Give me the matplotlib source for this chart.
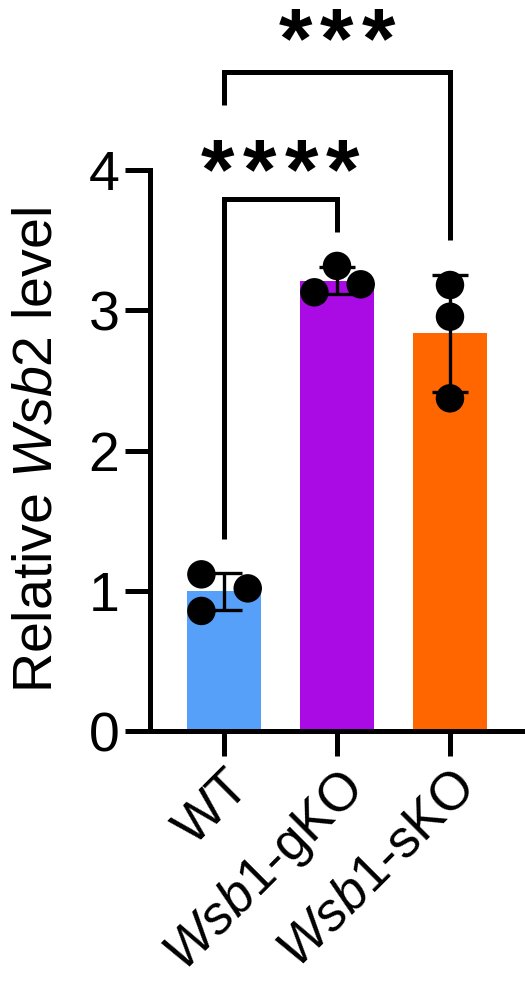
import matplotlib
matplotlib.use('Agg')
import matplotlib.pyplot as plt
import numpy as np

plt.rcParams['font.family'] = ['Liberation Sans', 'DejaVu Sans']
plt.rcParams['mathtext.fontset'] = 'custom'
plt.rcParams['mathtext.rm'] = 'Liberation Sans'
plt.rcParams['mathtext.it'] = 'Liberation Sans:italic'

# data
group_labels = ['WT', '$\\mathit{Wsb1}$-gKO', '$\\mathit{Wsb1}$-sKO']
wt = [1.117, 1.017, 0.856]
gko = [3.316, 3.128, 3.185]
sko = [3.18, 2.954, 2.372]
jitter = [[-0.2, 0.21, -0.2], [0.0, -0.2, 0.21], [0.0, 0.0, 0.0]]
bar_colors = ['#56A0FA', '#AA0AE4', '#FF6600']
# brackets: (left group, right group, y top, left leg bottom, right leg bottom, stars, star baseline)
brackets = [(0, 1, 3.79, 1.37, 3.56, 4, 3.80),
            (0, 2, 4.70, 4.46, 3.50, 3, 4.73)]

samples = [wt, gko, sko]
means = [np.mean(s) for s in samples]
sds = [np.std(s, ddof=1) for s in samples]
x = np.arange(len(samples))

fig = plt.figure(figsize=(5.25, 9.85), dpi=100)
ax = fig.add_axes([150/525, 254/985, 375/525, 561/985])

lw = 3.6
ax.bar(x, means, width=0.66, color=bar_colors, zorder=1)
ax.errorbar(x, means, yerr=sds, fmt='none', ecolor='black', elinewidth=2.4,
            capsize=13, capthick=2.4, zorder=2)
for i, s in enumerate(samples):
    ax.scatter(x[i] + np.array(jitter[i]), s, s=420, color='black', zorder=3,
               edgecolors='none', clip_on=False)

pitch = 30  # points between asterisks
for g1, g2, ytop, yl, yr, nstar, ystar in brackets:
    ax.plot([x[g1], x[g1], x[g2], x[g2]], [yl, ytop, ytop, yr], color='black',
            lw=lw, clip_on=False, solid_joinstyle='miter', solid_capstyle='butt')
    xc = (x[g1] + x[g2]) / 2
    for k in range(nstar):
        off = (k - (nstar - 1) / 2) * pitch
        ax.annotate('*', (xc, ystar), xytext=(off, 0), textcoords='offset points',
                    ha='center', va='baseline', fontsize=62, fontweight='bold',
                    annotation_clip=False)

ax.set_xlim(-0.655, 2.664)
ax.set_ylim(0, 4)
ax.set_yticks([0, 1, 2, 3, 4])
ax.set_xticks(x)
ax.set_xticklabels(group_labels, rotation=45, ha='right', rotation_mode='anchor')
ax.set_ylabel('Relative $\\mathit{Wsb2}$ level', fontsize=40, labelpad=18)

for side in ['top', 'right']:
    ax.spines[side].set_visible(False)
for side in ['left', 'bottom']:
    ax.spines[side].set_linewidth(lw)
ax.tick_params(axis='both', width=lw, length=18, labelsize=40, pad=4)
ax.tick_params(axis='x', pad=4, labelsize=38)

fig.savefig('out.png', dpi=100)
